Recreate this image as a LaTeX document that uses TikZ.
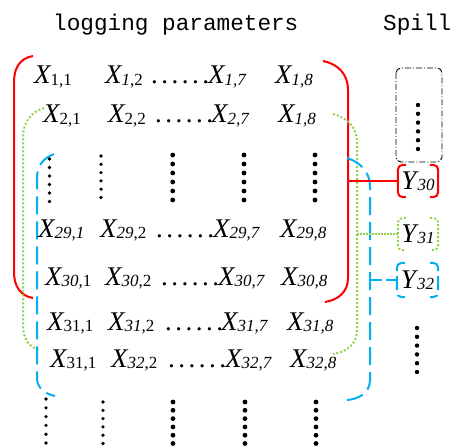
\documentclass[tikz,border=0pt]{standalone}
\usepackage{fontspec}
\setmainfont{Liberation Serif}
\newfontfamily\titlefont{Liberation Mono}
\usetikzlibrary{calc}
\definecolor{bred}{HTML}{FF0000}
\definecolor{bgreen}{HTML}{92D050}
\definecolor{bblue}{HTML}{00B0F0}
% matrix entry: italic X with a lowered, smaller index
\newcommand{\xvar}[1]{\textit{X}\kern-1pt\raisebox{-1.5pt}{\fontsize{17}{17}\selectfont #1}}
\newcommand{\yvar}[1]{\textit{Y}\kern-1pt\raisebox{-1.5pt}{\fontsize{17}{17}\selectfont\itshape #1}}
\newcommand{\ii}[1]{\textit{#1}}
% a horizontal run of six dots
\newcommand{\hdots}{.\kern3.5pt.\kern3.5pt.\kern3.5pt.\kern3.5pt.\kern3.5pt.}
\tikzset{
  entry/.style={anchor=base west, inner sep=0pt, font=\fontsize{27}{27}\selectfont},
  ttl/.style={anchor=base west, inner sep=0pt, font=\titlefont\fontsize{22.7}{22.7}\selectfont},
  ybox/.style={inner sep=0pt, minimum width=40pt, minimum height=32pt, font=\fontsize{27}{27}\selectfont},
  redline/.style={bred, line width=2pt},
  greenline/.style={bgreen, line width=2pt, dash pattern=on 2pt off 2pt},
  blueline/.style={bblue, line width=2pt, dash pattern=on 18pt off 7pt},
}
% vertical column of dots: x, first y, count, spacing, radius
\newcommand{\dotcol}[5]{\foreach \k in {1,...,#3}{\fill ({#1},{#2+(\k-1)*#4}) circle[radius=#5];}}
% bracket pair around a node
\newcommand{\ybrackets}[2]{%
  \draw[#2, rounded corners=5pt] ($(#1.north west)+(8,0)$) -- (#1.north west) -- (#1.south west) -- ($(#1.south west)+(8,0)$);
  \draw[#2, rounded corners=5pt] ($(#1.north east)+(-8,0)$) -- (#1.north east) -- (#1.south east) -- ($(#1.south east)+(-8,0)$);}
\begin{document}
\begin{tikzpicture}[x=1pt,y=-1pt]
\useasboundingbox (0,0) rectangle (452,446);

% headings
\node[ttl] (t1) at (53,31) {logging parameters};
\node[ttl] (t2) at (383,31) {Spill};

% large brackets
\draw[redline] (33,56) .. controls (20,58) and (14,68) .. (14,82) -- (14,272) .. controls (14,287) and (21,296) .. (33,298);
\draw[redline] (323,61) .. controls (338,64) and (348,74) .. (348,90) -- (348,278) .. controls (348,292) and (338,300) .. (325,302);
\draw[greenline] (44,108) .. controls (31,112) and (23,122) .. (23,138) -- (23,325) .. controls (23,340) and (30,348) .. (40,350);
\draw[greenline] (333,114) .. controls (348,118) and (357,128) .. (357,142) -- (357,330) .. controls (357,344) and (347,352) .. (333,354);
\draw[blueline] (54,154) .. controls (44,158) and (37,165) .. (37,178) -- (37,378) .. controls (37,388) and (45,394) .. (55,396);
\draw[blueline] (347,158) .. controls (360,162) and (370,172) .. (370,186) -- (370,380) .. controls (370,392) and (360,399) .. (347,400);

% row 1
\node[entry] (a11) at (34,84) {\xvar{1,1}};
\node[entry] (a12) at (105,84) {\xvar{\ii{1},2}};
\node[entry] (d1) at (151,84) {\hdots};
\node[entry] (a17) at (208,84) {\xvar{\ii{1,7}}};
\node[entry] (a18) at (275,84) {\xvar{\ii{1,8}}};
% row 2
\node[entry] (a21) at (43,123) {\xvar{2,1}};
\node[entry] (a22) at (108,123) {\xvar{2,2}};
\node[entry] (d2) at (155,123) {\hdots};
\node[entry] (a27) at (211,123) {\xvar{\ii{2,7}}};
\node[entry] (a28) at (278,123) {\xvar{\ii{1,8}}};
% row 29
\node[entry] (a291) at (38,237) {\xvar{\ii{29,1}}};
\node[entry] (a292) at (100,237) {\xvar{\ii{29},2}};
\node[entry] (d29) at (156,237) {\hdots};
\node[entry] (a297) at (213,237) {\xvar{\ii{29,7}}};
\node[entry] (a298) at (280,237) {\xvar{\ii{29,8}}};
% row 30
\node[entry] (a301) at (45,285) {\xvar{\ii{30,}1}};
\node[entry] (a302) at (105,285) {\xvar{\ii{30},2}};
\node[entry] (d30) at (161,285) {\hdots};
\node[entry] (a307) at (218,285) {\xvar{\ii{30,7}}};
\node[entry] (a308) at (281,285) {\xvar{\ii{30,8}}};
% row 31
\node[entry] (a311) at (47,330) {\xvar{31,1}};
\node[entry] (a312) at (108,330) {\xvar{\ii{31},2}};
\node[entry] (d31) at (165,330) {\hdots};
\node[entry] (a317) at (221,330) {\xvar{\ii{31,7}}};
\node[entry] (a318) at (287,330) {\xvar{\ii{31,8}}};
% row 32
\node[entry] (a321) at (50,367) {\xvar{31,1}};
\node[entry] (a322) at (111,367) {\xvar{\ii{32},2}};
\node[entry] (d32) at (168,367) {\hdots};
\node[entry] (a327) at (225,367) {\xvar{\ii{32,7}}};
\node[entry] (a328) at (290,367) {\xvar{\ii{32,8}}};

% vertical dots between rows 2 and 29
\dotcol{49.5}{159}{6}{8.5}{1.8}
\dotcol{101}{156}{6}{8.3}{1.8}
\dotcol{172.7}{155}{6}{9}{2.4}
\dotcol{244}{155}{6}{9}{2.4}
\dotcol{315}{155}{6}{9}{2.4}
% vertical dots below the matrix
\dotcol{46}{399}{6}{8.8}{1.8}
\dotcol{103}{402}{6}{8.3}{1.8}
\dotcol{173}{402}{6}{8.3}{2.4}
\dotcol{245}{402}{6}{8.3}{2.4}
\dotcol{316}{402}{6}{8.3}{2.4}

% spill column
\draw[black, line width=0.9pt, dash pattern=on 6pt off 2pt on 1pt off 2pt, rounded corners=5pt] (396,68) rectangle (442,162);
\dotcol{418}{105}{6}{8.8}{2.2}
\node[ybox] (y30) at (418,181) {\yvar{30}};
\node[ybox] (y31) at (418,234) {\yvar{31}};
\node[ybox, minimum height=34pt, minimum width=41pt] (y32) at (417.5,280) {\yvar{32}};
\ybrackets{y30}{redline}
\ybrackets{y31}{greenline}
\ybrackets{y32}{bblue, line width=2pt, dash pattern=on 14pt off 5pt}
\dotcol{417}{328}{6}{8.8}{2.2}

% links from the brackets to the spill values
\coordinate (rr) at (348,181);
\coordinate (gr) at (357,234);
\coordinate (br) at (370,280);
\draw[bred, line width=1.5pt] (rr) -- (y30.west);
\draw[bgreen, line width=1.5pt, dash pattern=on 1.5pt off 1.5pt] (gr) -- (y31.west);
\draw[bblue, line width=1.5pt, dash pattern=on 12pt off 4pt] (br) -- (y32.west);
\draw[bblue, line width=1.5pt] (370,273) -- (370,287);
\end{tikzpicture}
\end{document}
